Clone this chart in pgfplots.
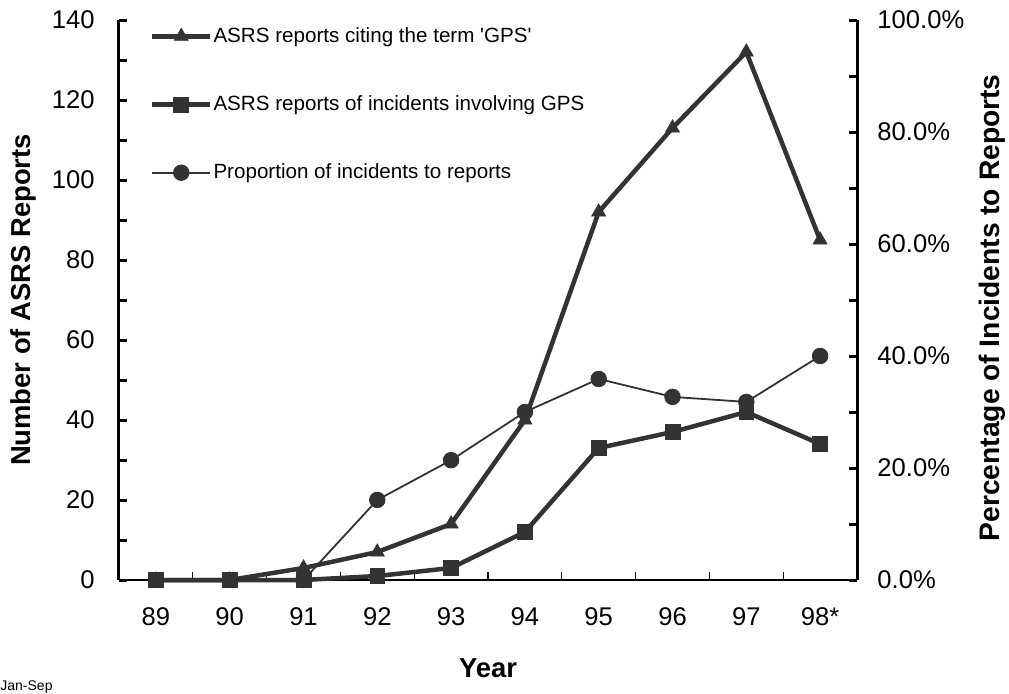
\documentclass[border=0pt]{standalone}
\usepackage{pgfplots}
\pgfplotsset{compat=1.18}
\usepackage{fontspec}
\setmainfont{Liberation Sans}[Ligatures=TeXOff]
\definecolor{ser}{HTML}{333333}
\begin{document}
\begin{tikzpicture}
\useasboundingbox (0,0) rectangle (504.5pt,346.5pt);
\pgfplotsset{
 base/.style={
  at={(59.5pt,56.5pt)}, anchor=south west, scale only axis, width=369pt, height=280pt,
  xmin=-0.5, xmax=9.5, clip=false,
  /pgf/number format/assume math mode=true,
  tick align=inside,
  major tick length=4pt, minor tick length=4pt,
  ticklabel style={font=\fontsize{12.8}{15}\selectfont},
  label style={font=\bfseries\fontsize{13.7}{16.4}\selectfont},
  y axis line style={line width=1.5pt,-},
  y tick style={line width=1.5pt, black},
 },
 tri/.style={color=ser, line width=2.25pt, mark=triangle*, mark size=4pt, mark options={line width=0.4pt, solid}},
 sq/.style={color=ser, line width=2.25pt, mark=square*, mark size=3.7pt, mark options={line width=0.4pt, solid}},
 cir/.style={color=ser, line width=0.9pt, mark=*, mark size=3.9pt, mark options={line width=0.4pt, solid}},
}
\begin{axis}[base,
  axis x line*=bottom, axis y line*=left,
  x axis line style={line width=0.6pt,-},
  ymin=0, ymax=140,
  ytick={0,20,...,140}, minor ytick={10,30,...,130},
  xtick={0,...,9}, xticklabels={89,90,91,92,93,94,95,96,97,98*},
  major x tick style={draw=none},
  minor xtick={0.5,1.5,...,8.5},
  minor x tick style={line width=0.6pt,black},
  yticklabel style={xshift=-8.7pt},
  xticklabel style={yshift=-10.3pt},
  xlabel={Year}, ylabel={Number of ASRS Reports},
  xlabel style={at={(axis description cs:0.5,-0.158)}, anchor=center},
  ylabel style={at={(axis description cs:-0.130,0.5)}, anchor=center},
]
\addplot[tri] coordinates {(0,0)(1,0)(2,3)(3,7)(4,14)(5,40)(6,92)(7,113)(8,132)(9,85)};
\addplot[sq] coordinates {(0,0)(1,0)(2,0)(3,1)(4,3)(5,12)(6,33)(7,37)(8,42)(9,34)};
\end{axis}
\begin{axis}[base,
  hide x axis, axis y line*=right,
  ymin=0, ymax=100,
  ytick={0,20,...,100}, minor ytick={10,30,...,90},
  yticklabel={\pgfmathprintnumber[fixed,fixed zerofill,precision=1]{\tick}\%},
  yticklabel style={xshift=6.7pt, anchor=west},
  ylabel={Percentage of Incidents to Reports},
  ylabel style={at={(axis description cs:1.183,0.486)}, anchor=center, font=\bfseries\fontsize{14.1}{16.9}\selectfont},
  legend cell align=left,
  legend style={at={(axis description cs:0.042,0.99)}, anchor=north west, draw=none, fill=none,
    inner sep=0pt, outer sep=0pt, row sep=23.4pt, column sep=0.5pt,
    nodes={inner sep=0pt, font=\fontsize{10.3}{12.3}\selectfont, text height=8.2pt, text depth=2.5pt}},
  legend image code/.code={\draw[mark repeat=2,mark phase=2,#1] plot coordinates {(0pt,0pt)(14.5pt,0pt)(29pt,0pt)};},
]
\addlegendimage{tri}
\addlegendentry{ASRS reports citing the term 'GPS'}
\addlegendimage{sq}
\addlegendentry{ASRS reports of incidents involving GPS}
\addplot[cir] coordinates {(2,0)(3,14.3)(4,21.4)(5,30.0)(6,35.9)(7,32.7)(8,31.8)(9,40.0)};
\addlegendentry{Proportion of incidents to reports}
\end{axis}
\node[anchor=west, inner sep=0pt, font=\fontsize{7}{8}\selectfont] at (0pt,3.2pt) {Jan-Sep};
\end{tikzpicture}
\end{document}
